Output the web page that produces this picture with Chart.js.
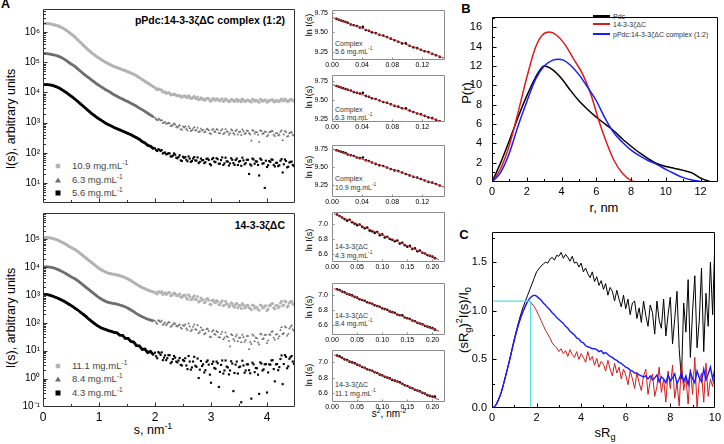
<!DOCTYPE html>
<html>
<head>
<meta charset="utf-8">
<script src="https://cdn.jsdelivr.net/npm/chart.js@4.4.1/dist/chart.umd.min.js"></script>
<style>
  body { margin: 0; background: #fff; }
  #fig { position: relative; width: 724px; height: 444px; overflow: hidden; font-family: "Liberation Sans", Arial, sans-serif; color: #000; }
  #fig canvas { position: absolute; }
  .t { position: absolute; white-space: nowrap; line-height: 1; }
  .c { transform: translate(-50%, -50%); }
  .v { transform: translate(-50%, -50%) rotate(-90deg); }
  .l { transform: translateY(-50%); }
  .r { transform: translate(-100%, -50%); }
  sup, sub { font-size: 70%; line-height: 0; }
  .mk { position: absolute; transform: translate(-50%, -50%); }
  .ln { position: absolute; width: 17px; height: 1.5px; }
</style>
</head>
<body>
<div id="fig">
  <div class="t" style="left:1px;top:-2px;font-size:12.5px;font-weight:bold">A</div>
  <div class="t c" style="left:466px;top:8px;font-size:13px;font-weight:bold">B</div>
  <div class="t c" style="left:464px;top:234px;font-size:13px;font-weight:bold">C</div>

  <div class="t r" style="left:285px;top:20px;font-size:10.5px;font-weight:bold">pPdc:14-3-3ζΔC complex (1:2)</div>
  <div class="t r" style="left:285px;top:225px;font-size:10.5px;font-weight:bold">14-3-3ζΔC</div>
  <div class="t v" style="left:11px;top:119px;font-size:12.5px">I(s), arbitrary units</div>
  <div class="t v" style="left:11px;top:318px;font-size:12.5px">I(s), arbitrary units</div>
  <div class="t c" style="left:153px;top:430px;font-size:12.5px">s, nm<sup>-1</sup></div>

  <div class="mk" style="left:58px;top:166px;width:5px;height:5px;border-radius:50%;background:#b3b3b3"></div>
  <div class="mk" style="left:58px;top:180px;width:0;height:0;border-left:3px solid transparent;border-right:3px solid transparent;border-bottom:5px solid #6e6e6e"></div>
  <div class="mk" style="left:58px;top:193px;width:5px;height:5px;background:#000"></div>
  <div class="t l" style="left:72px;top:166px;font-size:9.5px;color:#444">10.9 mg.mL<sup>-1</sup></div>
  <div class="t l" style="left:72px;top:180px;font-size:9.5px;color:#444">6.3 mg.mL<sup>-1</sup></div>
  <div class="t l" style="left:72px;top:193px;font-size:9.5px;color:#444">5.6 mg.mL<sup>-1</sup></div>

  <div class="mk" style="left:58px;top:366px;width:5px;height:5px;border-radius:50%;background:#b3b3b3"></div>
  <div class="mk" style="left:58px;top:379px;width:0;height:0;border-left:3px solid transparent;border-right:3px solid transparent;border-bottom:5px solid #6e6e6e"></div>
  <div class="mk" style="left:58px;top:393px;width:5px;height:5px;background:#000"></div>
  <div class="t l" style="left:72px;top:366px;font-size:9.5px;color:#444">11.1 mg.mL<sup>-1</sup></div>
  <div class="t l" style="left:72px;top:379px;font-size:9.5px;color:#444">8.4 mg.mL<sup>-1</sup></div>
  <div class="t l" style="left:72px;top:393px;font-size:9.5px;color:#444">4.3 mg.mL<sup>-1</sup></div>

  <div class="t v" style="left:309px;top:25px;font-size:9px">ln I(s)</div>
  <div class="t v" style="left:309px;top:97px;font-size:9px">ln I(s)</div>
  <div class="t v" style="left:309px;top:167px;font-size:9px">ln I(s)</div>
  <div class="t v" style="left:309px;top:240px;font-size:9px">ln I(s)</div>
  <div class="t v" style="left:309px;top:307px;font-size:9px">ln I(s)</div>
  <div class="t v" style="left:309px;top:375px;font-size:9px">ln I(s)</div>
  <div class="t l" style="left:335px;top:43px;font-size:7px;color:#333">Complex</div>
  <div class="t l" style="left:335px;top:51px;font-size:7px;color:#333">5.6 mg.mL<sup>-1</sup></div>
  <div class="t l" style="left:335px;top:109px;font-size:7px;color:#333">Complex</div>
  <div class="t l" style="left:335px;top:117px;font-size:7px;color:#333">6.3 mg.mL<sup>-1</sup></div>
  <div class="t l" style="left:335px;top:178px;font-size:7px;color:#333">Complex</div>
  <div class="t l" style="left:335px;top:187px;font-size:7px;color:#333">10.9 mg.mL<sup>-1</sup></div>
  <div class="t l" style="left:335px;top:246px;font-size:7px;color:#333">14-3-3ζΔC</div>
  <div class="t l" style="left:335px;top:255px;font-size:7px;color:#333">4.3 mg.mL<sup>-1</sup></div>
  <div class="t l" style="left:335px;top:315px;font-size:7px;color:#333">14-3-3ζΔC</div>
  <div class="t l" style="left:335px;top:323px;font-size:7px;color:#333">8.4 mg.mL<sup>-1</sup></div>
  <div class="t l" style="left:335px;top:384px;font-size:7px;color:#333">14-3-3ζΔC</div>
  <div class="t l" style="left:335px;top:393px;font-size:7px;color:#333">11.1 mg.mL<sup>-1</sup></div>
  <div class="t c" style="left:389px;top:414px;font-size:10px">s<sup>2</sup>, nm<sup>-2</sup></div>

  <div class="t v" style="left:466px;top:93px;font-size:13px">P(r)</div>
  <div class="t c" style="left:604px;top:207px;font-size:13px">r, nm</div>
  <div class="ln" style="left:593px;top:15px;background:#000"></div>
  <div class="ln" style="left:593px;top:23px;background:#e01b1b"></div>
  <div class="ln" style="left:593px;top:33px;background:#1a1aff"></div>
  <div class="t l" style="left:613px;top:16px;font-size:7px;color:#333">Pdc</div>
  <div class="t l" style="left:613px;top:24px;font-size:7px;color:#333">14-3-3ζΔC</div>
  <div class="t l" style="left:613px;top:34px;font-size:7px;color:#333">pPdc:14-3-3ζΔC complex (1:2)</div>

  <div class="t v" style="left:463px;top:320px;font-size:13px">(sR<sub>g</sub>)<sup>2</sup>I(s)/I<sub>0</sub></div>
  <div class="t c" style="left:605px;top:432px;font-size:13px">sR<sub>g</sub></div>
</div>
<script>
// scattering vector grid (nm^-1): fine part, then two interleaved sets for the noisy tail
const sLow = [0.02,0.07,0.12,0.17,0.22,0.27,0.32,0.37,0.42,0.47,0.52,0.57,0.62,0.67,0.72,0.77,0.82,0.87,0.92,0.97,
  1.02,1.07,1.12,1.17,1.22,1.27,1.32,1.37,1.42,1.47,1.52,1.57,1.62,1.67,1.72,1.77,1.82,1.87,1.92,1.97];
const sHigh = [2,2.04,2.08,2.12,2.16,2.2,2.24,2.28,2.32,2.36,2.4,2.44,2.48,2.52,2.56,2.6,2.64,2.68,2.72,2.76,
  2.8,2.84,2.88,2.92,2.96,3,3.04,3.08,3.12,3.16,3.2,3.24,3.28,3.32,3.36,3.4,3.44,3.48,3.52,3.56,
  3.6,3.64,3.68,3.72,3.76,3.8,3.84,3.88,3.92,3.96,4,4.04,4.08,4.12,4.16,4.2,4.24,4.28,4.32,4.36,
  4.4,4.44,4.48];
const sTail = [2.02,2.06,2.1,2.14,2.18,2.22,2.26,2.3,2.34,2.38,2.42,2.46,2.5,2.54,2.58,2.62,2.66,2.7,2.74,2.78,
  2.82,2.86,2.9,2.94,2.98,3.02,3.06,3.1,3.14,3.18,3.22,3.26,3.3,3.34,3.38,3.42,3.46,3.5,3.54,3.58,
  3.62,3.66,3.7,3.74,3.78,3.82,3.86,3.9,3.94,3.98,4.02,4.06,4.1,4.14,4.18,4.22,4.26,4.3,4.34,4.38,
  4.42,4.46];
const sGrid = sLow.concat(sHigh);

// log10 I(s), complex (top plot)
const cx109 = [6.28,6.28,6.27,6.25,6.23,6.20,6.16,6.11,6.05,5.98,5.91,5.83,5.74,5.65,5.56,5.47,5.39,5.31,5.24,5.17,
  5.11,5.05,5.00,4.95,4.90,4.86,4.82,4.79,4.75,4.72,4.68,4.64,4.60,4.55,4.49,4.43,4.37,4.31,4.25,4.19,
  4.16,4.09,4.10,4.08,4.01,3.97,3.99,3.92,3.93,3.93,3.89,3.90,3.84,3.87,3.84,3.89,3.80,3.84,3.81,3.85,
  3.77,3.78,3.74,3.80,3.79,3.71,3.80,3.74,3.78,3.72,3.79,3.72,3.75,3.69,3.77,3.72,3.75,3.70,3.74,3.78,
  3.70,3.75,3.72,3.68,3.76,3.74,3.69,3.77,3.71,3.75,3.67,3.74,3.76,3.70,3.73,3.70,3.76,3.72,3.78,3.70,
  3.75,3.77,3.71];
const cx109Tail = [4.12,4.12,4.08,4.01,4.02,3.98,3.98,3.92,3.95,3.90,3.89,3.86,3.88,3.89,3.82,3.86,3.81,3.87,3.80,3.76,
  3.82,3.79,3.76,3.81,3.72,3.78,3.76,3.79,3.72,3.77,3.70,3.79,3.74,3.71,3.76,3.70,3.77,3.74,3.69,3.75,
  3.71,3.75,3.70,3.77,3.71,3.73,3.67,3.76,3.72,3.75,3.69,3.74,3.76,3.68,3.73,3.71,3.78,3.72,3.76,3.71,
  3.76,3.73];
const cx63 = [5.28,5.28,5.27,5.25,5.23,5.20,5.16,5.11,5.05,4.98,4.92,4.86,4.78,4.70,4.62,4.55,4.48,4.41,4.34,4.27,
  4.21,4.15,4.09,4.04,3.98,3.92,3.87,3.82,3.78,3.73,3.69,3.64,3.59,3.54,3.48,3.43,3.37,3.31,3.25,3.19,
  3.16,3.08,3.10,3.08,3.00,2.96,2.99,2.89,2.92,2.94,2.84,2.91,2.76,2.84,2.79,2.87,2.72,2.80,2.75,2.83,
  2.71,2.74,2.68,2.78,2.75,2.62,2.79,2.69,2.76,2.65,2.79,2.66,2.71,2.60,2.77,2.65,2.72,2.61,2.70,2.77,
  2.62,2.73,2.65,2.40,2.73,2.69,2.60,2.74,2.63,2.70,2.55,2.69,2.72,2.60,2.65,2.57,2.70,2.42,2.72,2.54,
  2.65,2.68,2.57];
const cx63Tail = [3.11,3.13,3.07,2.99,3.02,2.97,2.98,2.90,2.97,2.86,2.87,2.78,2.87,2.87,2.74,2.81,2.75,2.85,2.74,2.69,
  2.80,2.76,2.70,2.79,2.65,2.76,2.71,2.78,2.65,2.74,2.62,2.79,2.70,2.65,2.74,2.61,2.76,2.69,2.59,2.71,
  2.65,2.73,2.61,2.75,2.63,2.68,2.36,2.72,2.64,2.70,2.59,2.68,2.72,2.56,2.65,2.60,2.74,2.61,2.69,2.56,
  2.67,2.60];
const cx56 = [4.26,4.26,4.25,4.23,4.20,4.16,4.11,4.05,3.99,3.92,3.85,3.78,3.70,3.62,3.54,3.46,3.38,3.30,3.23,3.16,
  3.10,3.04,2.98,2.93,2.89,2.84,2.80,2.76,2.72,2.68,2.64,2.60,2.55,2.50,2.45,2.37,2.33,2.25,2.22,2.14,
  2.15,2.06,2.10,2.09,2.00,1.95,1.99,1.88,1.91,1.94,1.82,1.92,1.73,1.83,1.77,1.88,1.70,1.81,1.75,1.85,
  1.70,1.75,1.66,1.80,1.76,1.59,1.83,1.69,1.79,1.64,1.85,1.65,1.72,1.58,1.82,1.66,1.76,1.60,1.73,1.84,
  1.62,1.77,1.30,1.58,1.78,1.72,1.60,1.81,1.64,0.84,1.53,1.73,1.78,1.60,1.67,1.56,1.74,1.35,1.78,1.52,
  1.68,1.71,1.56];
const cx56Tail = [2.09,2.12,2.06,1.98,2.01,1.96,1.98,1.88,1.98,1.84,1.86,1.75,1.87,1.86,1.72,1.81,1.73,1.86,1.74,1.66,
  1.81,1.76,1.69,1.81,1.63,1.79,1.71,1.82,1.64,1.76,1.60,1.84,1.71,1.65,1.77,1.60,1.81,1.71,1.57,1.75,
  1.66,1.77,1.62,1.81,1.64,1.71,1.25,1.77,1.66,1.74,1.59,1.70,1.77,1.55,1.67,1.59,1.79,1.62,1.73,1.54,
  1.70,1.60];

// log10 I(s), 14-3-3zetaDeltaC (bottom plot)
const pr111 = [5.06,5.06,5.05,5.03,5.00,4.96,4.91,4.86,4.80,4.74,4.68,4.63,4.56,4.48,4.40,4.32,4.24,4.16,4.08,4.00,
  3.93,3.87,3.82,3.78,3.76,3.74,3.72,3.69,3.66,3.62,3.57,3.51,3.45,3.38,3.32,3.27,3.22,3.18,3.14,3.11,
  3.10,3.03,3.10,3.12,3.05,3.02,3.09,2.97,3.03,3.05,2.97,3.03,2.92,2.97,2.90,3.01,2.83,2.92,2.85,2.94,
  2.78,2.82,2.72,2.85,2.81,2.66,2.82,2.72,2.77,2.65,2.79,2.64,2.68,2.57,2.72,2.60,2.66,2.54,2.62,2.69,
  2.53,2.63,2.55,2.47,2.62,2.57,2.48,2.64,2.53,2.60,2.44,2.62,2.68,2.54,2.62,2.54,2.71,2.61,2.78,2.57,
  2.72,2.77,2.65];
const pr111Tail = [3.05,3.12,3.08,3.02,3.08,3.05,3.09,2.99,3.07,2.98,3.00,2.93,2.99,3.00,2.85,2.94,2.85,2.97,2.84,2.75,
  2.89,2.83,2.75,2.87,2.67,2.80,2.74,2.80,2.66,2.74,2.61,2.77,2.67,2.61,2.69,2.56,2.70,2.62,2.51,2.63,
  2.56,2.63,2.51,2.64,2.52,2.56,2.45,2.62,2.54,2.61,2.50,2.62,2.69,2.50,2.63,2.58,2.77,2.64,2.75,2.61,
  2.76,2.68];
const pr84 = [4.01,4.01,4.00,3.98,3.95,3.91,3.86,3.81,3.75,3.69,3.63,3.58,3.51,3.43,3.35,3.27,3.19,3.11,3.03,2.95,
  2.88,2.82,2.77,2.73,2.71,2.69,2.67,2.64,2.61,2.57,2.52,2.46,2.40,2.33,2.27,2.22,2.17,2.13,2.10,2.07,
  2.07,1.97,2.06,2.07,1.97,1.92,2.02,1.86,1.94,1.96,1.87,1.94,1.80,1.89,1.80,1.98,1.71,1.86,1.77,1.91,
  1.68,1.73,1.59,1.77,1.71,1.49,1.73,1.57,1.66,1.47,1.68,1.46,1.52,1.35,1.59,1.42,1.51,1.34,1.46,1.57,
  1.32,1.53,1.05,1.24,1.54,1.46,1.29,1.61,1.41,1.56,1.28,1.58,1.68,1.46,1.58,1.44,1.74,1.59,1.87,1.54,
  1.80,1.90,1.72];
const pr84Tail = [2.00,2.09,2.03,1.93,2.01,1.96,2.01,1.89,1.99,1.89,1.90,1.82,1.91,1.94,1.74,1.87,1.75,1.94,1.75,1.63,
  1.83,1.75,1.63,1.79,1.50,1.69,1.60,1.70,1.48,1.60,1.41,1.65,1.49,1.15,1.55,1.36,1.57,1.46,1.30,1.48,
  1.38,1.53,1.31,1.58,1.34,1.45,1.22,1.58,1.44,1.57,1.37,1.57,1.69,1.39,1.59,1.52,1.84,1.63,1.83,1.60,
  1.86,1.76];
const pr43 = [3.02,3.01,2.99,2.96,2.92,2.88,2.83,2.78,2.72,2.66,2.60,2.53,2.46,2.38,2.30,2.22,2.13,2.05,1.97,1.90,
  1.84,1.79,1.76,1.72,1.69,1.66,1.64,1.56,1.55,1.44,1.44,1.33,1.31,1.18,1.17,1.05,1.06,0.93,0.97,0.86,
  0.93,0.73,0.91,0.94,0.75,0.66,0.84,0.55,0.70,0.75,0.58,0.74,0.47,0.63,0.47,0.81,0.32,0.61,0.46,0.72,
  0.32,0.45,0.22,0.60,0.50,-0.15,0.61,0.35,0.55,0.24,0.65,0.29,0.43,0.15,0.62,-0.45,0.50,0.18,0.43,0.64,
  0.21,0.51,0.30,-0.72,0.51,0.38,0.14,0.58,0.29,0.51,-0.50,0.51,0.65,0.34,0.51,0.30,0.70,-0.20,0.84,0.37,
  0.71,0.81,0.53];
const pr43Tail = [0.80,0.95,0.85,0.66,0.83,0.73,0.84,0.60,0.81,0.61,0.65,0.49,0.67,0.73,0.34,0.61,0.40,0.78,0.42,0.02,
  0.63,0.51,0.30,0.65,0.14,0.53,0.38,0.61,-0.30,0.49,0.18,0.65,0.40,0.29,0.54,0.20,0.61,0.41,-0.85,0.47,
  0.29,0.51,0.19,0.57,0.23,0.37,-0.55,0.54,0.33,0.52,0.22,0.50,0.66,-0.10,0.52,0.41,0.83,0.52,0.78,0.44,
  0.77,0.61];

// Guinier plots: s^2 (nm^-2) and ln I(s)
const gxComplex = [0.006,0.009,0.012,0.015,0.018,0.021,0.025,0.029,0.033,0.037,0.041,0.045,0.049,0.053,0.058,0.063,
  0.068,0.073,0.078,0.083,0.088,0.093,0.098,0.103,0.108,0.113,0.118,0.123,0.128,0.133,0.138,0.143];
const gCx56 = [9.67,9.66,9.65,9.64,9.63,9.62,9.60,9.59,9.58,9.56,9.57,9.53,9.52,9.50,9.49,9.47,
  9.46,9.44,9.42,9.40,9.38,9.36,9.36,9.33,9.31,9.30,9.28,9.26,9.25,9.23,9.21,9.19];
const gCx63 = [9.68,9.67,9.66,9.65,9.64,9.63,9.62,9.60,9.59,9.58,9.59,9.55,9.54,9.52,9.51,9.49,
  9.47,9.46,9.44,9.42,9.41,9.39,9.39,9.36,9.34,9.32,9.31,9.29,9.27,9.26,9.24,9.22];
const gCx109 = [9.73,9.72,9.71,9.70,9.69,9.67,9.66,9.65,9.63,9.62,9.63,9.59,9.58,9.56,9.54,9.52,
  9.51,9.49,9.47,9.45,9.44,9.42,9.40,9.38,9.36,9.35,9.33,9.31,9.29,9.28,9.26,9.24];
const gxProt = [0.010,0.015,0.020,0.025,0.030,0.035,0.040,0.045,0.050,0.055,0.060,0.065,0.070,0.075,0.080,0.085,
  0.090,0.095,0.100,0.105,0.110,0.115,0.120,0.125,0.130,0.135,0.140,0.145,0.150,0.155,0.160,0.165,
  0.170,0.175,0.180,0.185,0.190,0.195,0.200,0.205];
const gPr43 = [7.12,7.10,7.08,7.06,7.04,7.05,7.02,7.00,6.98,6.99,6.96,6.94,6.95,6.91,6.90,6.88,
  6.89,6.85,6.86,6.82,6.83,6.80,6.79,6.77,6.78,6.74,6.75,6.72,6.70,6.71,6.67,6.68,
  6.64,6.65,6.62,6.61,6.59,6.58,6.57,6.55];
const gPr84 = [7.07,7.06,7.04,7.03,7.01,7.00,6.99,6.97,6.96,6.94,6.93,6.92,6.90,6.89,6.88,6.86,
  6.85,6.84,6.82,6.81,6.80,6.78,6.77,6.76,6.74,6.73,6.73,6.70,6.69,6.68,6.66,6.65,
  6.63,6.62,6.61,6.59,6.58,6.57,6.56,6.54];
const gPr111 = [7.09,7.08,7.06,7.04,7.03,7.01,7.00,6.99,6.97,6.96,6.94,6.93,6.91,6.90,6.89,6.87,
  6.86,6.84,6.83,6.81,6.80,6.79,6.77,6.76,6.75,6.74,6.72,6.70,6.69,6.67,6.66,6.64,
  6.63,6.62,6.60,6.59,6.57,6.56,6.55,6.55];
// straight-line fits (end points)
const fitXComplex = [0, 0.15];
const fitXProt = [0.004, 0.213];
const fitCx56 = [9.69, 9.17];
const fitCx63 = [9.70, 9.20];
const fitCx109 = [9.75, 9.215];
const fitPr43 = [7.13, 6.53];
const fitPr84 = [7.08, 6.52];
const fitPr111 = [7.10, 6.51];

// Panel B: distance distributions P(r)
const rPdc = [0,0.5,1,1.5,2,2.5,3,3.5,4,4.5,5,5.5,6,6.5,7,7.5,8,8.5,9,9.5,10,10.5,11,11.5,12,12.6];
const pPdc = [0,2.0,4.3,6.7,8.9,10.8,12.0,11.6,10.7,9.5,8.4,7.5,6.7,6.0,5.3,4.45,3.7,3.0,2.4,1.9,1.6,1.4,1.2,0.95,0.4,0];
const rProt = [0,0.5,1,1.5,2,2.5,2.9,3.3,3.7,4.2,4.7,5.2,5.7,6.1,6.5,7,7.5,8,8.3];
const pProt = [0,1.4,3.8,7.2,10.8,13.9,15.2,15.5,15.2,14.2,12.7,11.2,9.0,6.6,4.5,2.3,0.9,0.15,0];
const rCx = [0,0.5,1,1.5,2,2.5,3,3.5,3.8,4.1,4.5,5,5.5,6,6.5,7,7.5,8,8.5,9,9.5,10,10.5,11,11.5,12,12.4];
const pCx = [0,1.0,3.0,5.8,8.3,10.6,12.0,12.6,12.7,12.6,12.1,11.1,9.8,8.4,6.6,5.1,4.1,3.3,2.7,2.2,1.8,1.3,0.85,0.45,0.2,0.05,0];

// Panel C: dimensionless Kratky plot
const kX = [0,0.1,0.2,0.3,0.4,0.5,0.6,0.7,0.8,0.9,1,1.1,1.2,1.3,1.4,1.5,1.6,1.7,1.8,1.9,
  2,2.1,2.2,2.3,2.4,2.5,2.6,2.7,2.8,2.9,3,3.1,3.2,3.3,3.4,3.5,3.6,3.7,3.8,3.9,
  4,4.1,4.2,4.3,4.4,4.5,4.6,4.7,4.8,4.9,5,5.1,5.2,5.3,5.4,5.5,5.6,5.7,5.8,5.9,
  6,6.1,6.2,6.3,6.4,6.5,6.6,6.7,6.8,6.9,7,7.1,7.2,7.3,7.4,7.5,7.6,7.7,7.8,7.9,
  8,8.1,8.2,8.3,8.4,8.5,8.6,8.7,8.8,8.9,9,9.1,9.2,9.3,9.4,9.5,9.6,9.7,9.8,9.9,10];
const kPdc = [0,0.01,0.04,0.09,0.15,0.23,0.32,0.41,0.51,0.61,0.71,0.80,0.89,0.97,1.04,1.10,1.16,1.22,1.28,1.34,
  1.40,1.43,1.46,1.48,1.50,1.49,1.53,1.55,1.52,1.57,1.56,1.60,1.54,1.58,1.55,1.51,1.56,1.49,1.50,1.45,
  1.49,1.40,1.44,1.38,1.34,1.40,1.30,1.35,1.26,1.31,1.22,1.28,1.16,1.24,1.20,1.10,1.21,1.12,1.04,1.16,
  1.02,1.12,0.96,1.08,1.10,0.92,1.03,0.88,1.10,0.95,0.84,1.06,0.98,0.76,1.10,0.90,0.82,1.12,0.74,0.96,
  1.14,0.66,0.92,1.20,0.60,0.30,1.08,0.78,1.32,0.52,1.00,1.36,0.62,0.90,1.44,0.58,1.18,0.84,1.50,0.96,1.72];
const kProt = [0,0.01,0.04,0.09,0.15,0.23,0.32,0.41,0.50,0.60,0.69,0.78,0.86,0.93,0.99,1.05,1.09,1.10,1.07,1.04,
  1.00,0.95,0.90,0.85,0.80,0.76,0.72,0.67,0.64,0.62,0.58,0.61,0.56,0.59,0.53,0.60,0.55,0.52,0.58,0.50,
  0.56,0.52,0.47,0.58,0.49,0.53,0.44,0.51,0.42,0.48,0.45,0.38,0.49,0.40,0.33,0.46,0.36,0.42,0.30,0.40,
  0.34,0.24,0.38,0.30,0.20,0.36,0.26,0.18,0.33,0.40,0.14,0.28,0.35,0.12,0.22,0.42,0.16,0.30,0.06,0.38,
  0.20,0.44,0.10,0.26,0.02,0.48,0.18,0.32,0.04,0.40,0.14,0.52,0.00,0.28,0.36,0.06,0.46,0.12,0.30,0.22,0.36];
const kCx = [0,0.01,0.04,0.09,0.15,0.23,0.32,0.41,0.50,0.60,0.70,0.79,0.87,0.94,1.00,1.05,1.10,1.13,1.15,1.16,
  1.15,1.13,1.11,1.08,1.06,1.03,1.01,0.98,0.96,0.93,0.91,0.89,0.87,0.84,0.82,0.79,0.77,0.75,0.72,0.71,
  0.68,0.67,0.64,0.63,0.62,0.61,0.61,0.60,0.58,0.59,0.56,0.57,0.55,0.53,0.52,0.50,0.49,0.47,0.46,0.44,
  0.42,0.41,0.39,0.38,0.36,0.36,0.34,0.33,0.32,0.33,0.30,0.33,0.29,0.31,0.34,0.27,0.32,0.30,0.26,0.34,
  0.28,0.31,0.35,0.25,0.30,0.36,0.27,0.33,0.24,0.37,0.30,0.26,0.38,0.31,0.27,0.40,0.29,0.35,0.42,0.30,0.40];
// sRg = sqrt(3) guide
const guideX = [0, 1.73, 1.73];
const guideY = [1.1, 1.1, 0];

Chart.defaults.font.family = '"Liberation Sans", Arial, sans-serif';
Chart.defaults.color = '#000';

const pts = (xs, ys, f = v => v) => xs.map((x, i) => ({x, y: f(ys[i])}));
const pow10 = v => Math.pow(10, v);
const SUP = {'0':'⁰','1':'¹','2':'²','3':'³','4':'⁴','5':'⁵','6':'⁶','7':'⁷','8':'⁸','9':'⁹','-':'⁻'};
const decadeLabel = v => '10' + String(Math.round(Math.log10(v))).split('').map(ch => SUP[ch]).join('');
const steps = (a, b, d) => { const out = []; for (let v = a; v <= b + 1e-9; v += d) out.push(+v.toFixed(6)); return out; };
const logMinor = (lo, hi) => { const out = []; for (let e = lo; e <= hi; e++) for (let k = 2; k < 10; k++) out.push(k * Math.pow(10, e)); return out; };

// frame with inward tick marks
function framePlugin(spec) {
  return {
    id: 'frame',
    afterDatasetsDraw(chart) {
      const {ctx, chartArea: a, scales} = chart;
      const L = Math.round(a.left) + 0.5, R = Math.round(a.right) - 0.5;
      const T = Math.round(a.top) + 0.5, B = Math.round(a.bottom) - 0.5;
      ctx.save();
      ctx.strokeStyle = spec.color;
      ctx.lineWidth = 1;
      ctx.beginPath();
      ctx.rect(L, T, R - L, B - T);
      for (const [vals, len] of [[spec.xTicks, spec.len], [spec.xMinor, spec.minorLen]]) {
        for (const v of vals || []) {
          const p = Math.round(scales.x.getPixelForValue(v)) + 0.5;
          if (p <= L || p >= R) continue;
          ctx.moveTo(p, B); ctx.lineTo(p, B - len);
        }
      }
      for (const [vals, len] of [[spec.yTicks, spec.len], [spec.yMinor, spec.minorLen]]) {
        for (const v of vals || []) {
          const p = Math.round(scales.y.getPixelForValue(v)) + 0.5;
          if (p <= T || p >= B) continue;
          ctx.moveTo(L, p); ctx.lineTo(L + len, p);
        }
      }
      ctx.stroke();
      ctx.restore();
    }
  };
}

function axis(type, min, max, ticks, fmt, size, pad) {
  return {
    type, min, max,
    grid: {display: false, drawTicks: false},
    border: {display: false},
    ticks: {font: {size}, padding: pad, autoSkip: false, maxRotation: 0, callback: fmt, color: '#000'},
    afterBuildTicks: s => { s.ticks = ticks.map(v => ({value: v})); }
  };
}

// box = [left, top, width, height] of canvas, area = [left, top, right, bottom] of plot
function makeChart(box, area, datasets, xAxis, yAxis, spec) {
  const c = document.createElement('canvas');
  c.width = box[2]; c.height = box[3];
  c.style.left = box[0] + 'px'; c.style.top = box[1] + 'px';
  document.getElementById('fig').appendChild(c);
  const yW = area[0] - box[0];
  const xH = box[1] + box[3] - area[3];
  let padBottom = 0;
  yAxis.afterFit = s => { s.width = yW; };
  if (xAxis.display === false) padBottom = xH;
  else xAxis.afterFit = s => { s.height = xH; };
  return new Chart(c, {
    type: 'scatter',
    data: {datasets},
    options: {
      responsive: false,
      animation: false,
      devicePixelRatio: 1,
      layout: {padding: {top: area[1] - box[1], right: box[0] + box[2] - area[2], bottom: padBottom, left: 0}},
      scales: {x: xAxis, y: yAxis},
      plugins: {legend: {display: false}, tooltip: {enabled: false}}
    },
    plugins: [framePlugin(spec)]
  });
}

const dots = (data, color, style, r = 1.5) => ({data, pointStyle: style, pointRadius: r, borderWidth: 0,
  pointBorderWidth: 0, backgroundColor: color, borderColor: color});
const line = (data, color, width, smooth) => ({data, showLine: true, pointRadius: 0, borderWidth: width,
  borderColor: color, backgroundColor: color, cubicInterpolationMode: smooth ? 'monotone' : 'default', tension: 0});
// one measured curve: dense low-s part reads as a thick trace, tail as scattered points
const curve = (main, tail, color, style) => [
  line(pts(sLow, main, pow10), color, 2.8, false),
  dots(pts(sGrid, main, pow10), color, style),
  dots(pts(sTail, tail, pow10), color, style)
];

const GREY1 = '#b3b3b3', GREY2 = '#6e6e6e';

// ---- A, top: complex ----
{
  const x = axis('linear', 0, 4.5, [0, 1, 2, 3, 4], v => v, 12, 3);
  x.display = false;
  const y = axis('logarithmic', pow10(0.34), pow10(6.76), [1e1, 1e2, 1e3, 1e4, 1e5, 1e6], decadeLabel, 10, 3);
  makeChart([0, 0, 300, 212], [43, 5, 295, 208], [
    ...curve(cx56, cx56Tail, '#000', 'rect'),
    ...curve(cx63, cx63Tail, GREY2, 'triangle'),
    ...curve(cx109, cx109Tail, GREY1, 'circle')
  ], x, y, {color: '#333', xTicks: [1, 2, 3, 4], xMinor: steps(0.5, 4.5, 1), yTicks: [1e1, 1e2, 1e3, 1e4, 1e5, 1e6],
    yMinor: logMinor(0, 6), len: 4, minorLen: 2.5});
}

// ---- A, bottom: 14-3-3 ----
{
  const x = axis('linear', 0, 4.5, [0, 1, 2, 3, 4], v => v, 12, 3);
  const y = axis('logarithmic', pow10(-1.02), pow10(5.94), [1e-1, 1e0, 1e1, 1e2, 1e3, 1e4, 1e5], decadeLabel, 10, 3);
  makeChart([0, 204, 300, 240], [43, 207, 295, 407], [
    ...curve(pr43, pr43Tail, '#000', 'rect'),
    ...curve(pr84, pr84Tail, GREY2, 'triangle'),
    ...curve(pr111, pr111Tail, GREY1, 'circle')
  ], x, y, {color: '#333', xTicks: [1, 2, 3, 4], xMinor: steps(0.5, 4.5, 1), yTicks: [1e0, 1e1, 1e2, 1e3, 1e4, 1e5],
    yMinor: logMinor(-2, 5), len: 4, minorLen: 2.5});
}

// ---- Guinier panels ----
const guinier = [
  {top: 5, bottom: 60, gx: gxComplex, gy: gCx56, fx: fitXComplex, fy: fitCx56, ymin: 9.15, ymax: 9.78},
  {top: 70, bottom: 122, gx: gxComplex, gy: gCx63, fx: fitXComplex, fy: fitCx63, ymin: 9.21, ymax: 9.82},
  {top: 140, bottom: 197, gx: gxComplex, gy: gCx109, fx: fitXComplex, fy: fitCx109, ymin: 9.08, ymax: 9.80},
  {top: 207, bottom: 262, gx: gxProt, gy: gPr43, fx: fitXProt, fy: fitPr43, ymin: 6.50, ymax: 7.15},
  {top: 278, bottom: 335, gx: gxProt, gy: gPr84, fx: fitXProt, fy: fitPr84, ymin: 6.47, ymax: 7.15},
  {top: 345, bottom: 402, gx: gxProt, gy: gPr111, fx: fitXProt, fy: fitPr111, ymin: 6.48, ymax: 7.16}
];
guinier.forEach(g => {
  const complex = g.gx === gxComplex;
  const xt = complex ? [0, 0.04, 0.08, 0.12] : [0, 0.05, 0.10, 0.15, 0.20];
  const yt = complex ? [9.25, 9.50, 9.75] : [6.6, 6.8, 7.0];
  const x = axis('linear', 0, complex ? 0.15 : 0.225, xt, v => v.toFixed(2), 7, 1);
  const y = axis('linear', g.ymin, g.ymax, yt, v => complex ? v.toFixed(2) : v.toFixed(1), 7, 4);
  makeChart([290, g.top - 3, 160, g.bottom + 10 - (g.top - 3)], [332, g.top, 445, g.bottom], [
    line(pts(g.fx, g.fy), '#e8262a', 1, false),
    dots(pts(g.gx, g.gy), '#000', 'circle', 1.3)
  ], x, y, {color: '#8c8c8c', xTicks: xt, yTicks: yt, len: 2, minorLen: 0});
});

// ---- B: P(r) ----
{
  const xt = [0, 2, 4, 6, 8, 10, 12];
  const yt = [0, 2, 4, 6, 8, 10, 12, 14, 16];
  const x = axis('linear', 0, 13, xt, v => v, 11, 3);
  const y = axis('linear', 0, 17.1, yt, v => v, 11, 10);
  makeChart([450, 0, 274, 215], [492, 5, 718, 182], [
    line(pts(rCx, pCx), '#1a1aff', 1.5, true),
    line(pts(rProt, pProt), '#e01b1b', 1.5, true),
    line(pts(rPdc, pPdc), '#000', 1.5, true)
  ], x, y, {color: '#000', xTicks: xt, xMinor: steps(1, 13, 2), yTicks: yt, yMinor: steps(1, 17, 2), len: 4, minorLen: 2.5});
}

// ---- C: Kratky ----
{
  const xt = [0, 2, 4, 6, 8, 10];
  const yt = [0, 0.5, 1.0, 1.5];
  const x = axis('linear', 0, 10, xt, v => v, 11, 3);
  const y = axis('linear', 0, 1.81, yt, v => v.toFixed(1), 11, 5);
  makeChart([450, 215, 274, 229], [492, 232, 718, 408], [
    line(pts(guideX, guideY), '#4fe3e3', 1.3, false),
    line(pts(kX, kCx), '#1a1aff', 1.4, false),
    line(pts(kX, kProt), '#d41c1c', 1, false),
    line(pts(kX, kPdc), '#000', 1, false)
  ], x, y, {color: '#000', xTicks: xt, xMinor: steps(1, 9, 2), yTicks: yt, yMinor: steps(0.25, 1.75, 0.5), len: 4, minorLen: 2.5});
}
</script>
</body>
</html>
